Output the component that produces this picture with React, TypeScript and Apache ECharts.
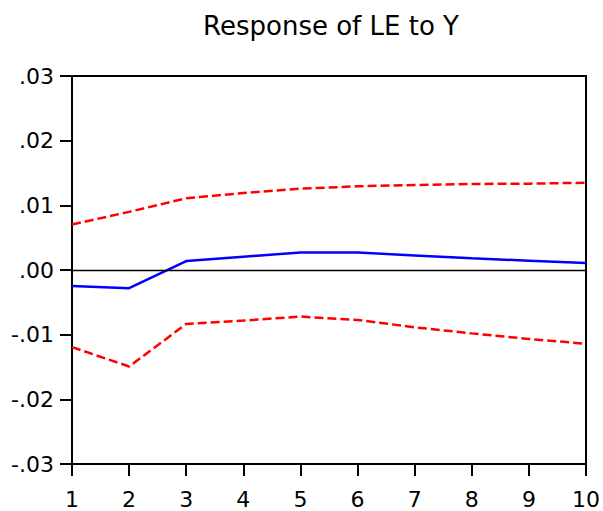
import React, { useEffect, useRef } from "react";
import * as echarts from "echarts";

const titleText = "Response of LE to Y";
const periods = ["1", "2", "3", "4", "5", "6", "7", "8", "9", "10"];
const response = [-0.00247, -0.00282, 0.00139, 0.00205, 0.00272, 0.00272, 0.00226, 0.0018, 0.00144, 0.00108];
const upperBand = [0.00704, 0.00899, 0.01109, 0.0119, 0.01258, 0.01294, 0.01315, 0.0133, 0.01335, 0.0135];
const lowerBand = [-0.01192, -0.01492, -0.00834, -0.00782, -0.0072, -0.00772, -0.00886, -0.0098, -0.01067, -0.0114];
const yMin = -0.03;
const yMax = 0.03;
const yInterval = 0.01;
const yTickLabels = ["-.03", "-.02", "-.01", ".00", ".01", ".02", ".03"];

const FONT = "DejaVu Sans";

export default function App() {
  const ref = useRef<HTMLDivElement>(null);
  useEffect(() => {
    if (!ref.current) return;
    const chart = echarts.init(ref.current, undefined, { renderer: "svg" });
    chart.setOption({
      animation: false,
      backgroundColor: "#ffffff",
      graphic: [
        {
          type: "text",
          x: 331,
          y: 26,
          style: {
            text: titleText,
            fontFamily: FONT,
            fontSize: 26,
            fill: "#000",
            textAlign: "center",
            textVerticalAlign: "middle",
          },
        },
      ],
      grid: {
        left: 72,
        right: 15,
        top: 76,
        bottom: 47,
        show: true,
        borderColor: "#000",
        borderWidth: 2,
        backgroundColor: "#fff",
      },
      xAxis: {
        type: "category",
        data: periods,
        boundaryGap: false,
        axisLine: { onZero: false, lineStyle: { color: "#000", width: 2 } },
        axisTick: { show: true, length: 12, lineStyle: { color: "#000", width: 2 } },
        axisLabel: { color: "#000", fontFamily: FONT, fontSize: 22, margin: 24 },
        splitLine: { show: false },
      },
      yAxis: {
        type: "value",
        min: yMin,
        max: yMax,
        interval: yInterval,
        axisLine: { show: true, lineStyle: { color: "#000", width: 2 } },
        axisTick: { show: true, length: 12, lineStyle: { color: "#000", width: 2 } },
        axisLabel: {
          color: "#000",
          fontFamily: FONT,
          fontSize: 22,
          margin: 18,
          formatter: (v: number) => yTickLabels[Math.round((v - yMin) / yInterval)] ?? "",
        },
        splitLine: { show: false },
      },
      series: [
        {
          type: "line",
          data: upperBand,
          symbol: "none",
          lineStyle: { color: "#ff0000", width: 2.5, type: [9, 4] },
          silent: true,
        },
        {
          type: "line",
          data: lowerBand,
          symbol: "none",
          lineStyle: { color: "#ff0000", width: 2.5, type: [9, 4] },
          silent: true,
        },
        {
          type: "line",
          data: response,
          symbol: "none",
          lineStyle: { color: "#0000ff", width: 2.5 },
          silent: true,
          markLine: {
            silent: true,
            symbol: "none",
            label: { show: false },
            lineStyle: { color: "#000", width: 1.3, type: "solid" },
            data: [{ yAxis: 0 }],
          },
        },
      ],
    });
    return () => chart.dispose();
  }, []);
  return (
    <div
      ref={ref}
      style={{ position: "fixed", left: 0, top: 0, width: 603, height: 511 }}
    />
  );
}
